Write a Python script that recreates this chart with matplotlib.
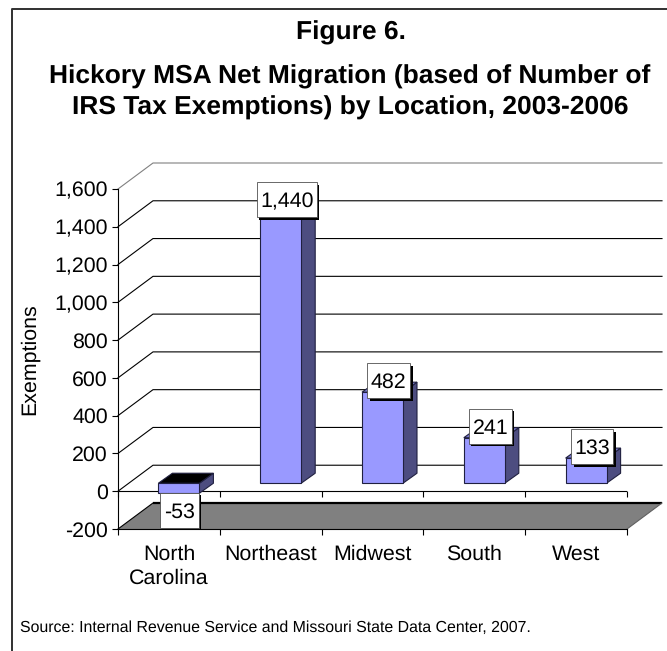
import matplotlib
matplotlib.use("Agg")
import matplotlib.pyplot as plt
from matplotlib.patches import Polygon, Rectangle

categories = ["North\nCarolina", "Northeast", "Midwest", "South", "West"]
values = [-53, 1440, 482, 241, 133]
value_labels = ["-53", "1,440", "482", "241", "133"]
yticks = [-200, 0, 200, 400, 600, 800, 1000, 1200, 1400, 1600]
ytick_labels = ["-200", "0", "200", "400", "600", "800", "1,000", "1,200", "1,400", "1,600"]
title_top = "Figure 6."
title_main = "Hickory MSA Net Migration (based of Number of\nIRS Tax Exemptions) by Location, 2003-2006"
source = "Source: Internal Revenue Service and Missouri State Data Center, 2007."

W, H = 667, 651
FS = 15.4
plt.rcParams["font.family"] = ["Liberation Sans", "DejaVu Sans"]
plt.rcParams["text.hinting"] = "no_hinting"
fig = plt.figure(figsize=(W / 100, H / 100), dpi=100)
L, R, T, B = 118, 627, 189, 529
ax = fig.add_axes([L / W, 1 - B / H, (R - L) / W, (B - T) / H])
ax.patch.set_visible(False)
ax.set_xlim(0, len(categories))
ax.set_ylim(-200, 1600)
PX = (R - L) / len(categories)
PY = (B - T) / 1800.0
def dx(p): return p / PX
def dy(p): return p / PY

LW = 0.8
for s in ("top", "right"):
    ax.spines[s].set_visible(False)
for s in ("left", "bottom"):
    ax.spines[s].set_linewidth(LW)
ax.set_yticks(yticks, ytick_labels, fontsize=FS)
ax.set_xticks(range(len(categories) + 1), [""] * (len(categories) + 1))
ax.set_xticks([i + 0.5 for i in range(len(categories))], categories, minor=True, fontsize=FS)
ax.tick_params(axis="y", length=4.2, width=LW, pad=3, labelcolor="black")
ax.tick_params(axis="x", which="major", length=4.2, width=LW)
ax.tick_params(axis="x", which="minor", length=0, pad=11)
for lab in ax.get_xminorticklabels():
    lab.set_linespacing(1.3)
ax.set_ylabel("Exemptions", fontsize=FS)
ax.yaxis.set_label_coords(39 / W, 1 - 359 / H, transform=fig.transFigure)

# depth of the 3-D box
Dx, Dy = dx(35), dy(26)
n = len(categories)
for v in yticks[1:]:
    c = "#808080" if v == 1600 else "black"
    ax.plot([0, Dx, n + Dx], [v, v + Dy, v + Dy], color=c, lw=LW, clip_on=False, zorder=1)

# floor
ax.add_patch(Polygon([(0, -200), (n, -200), (n + Dx, -200 + Dy), (Dx, -200 + Dy)], closed=True,
                     facecolor="#808080", edgecolor="none", clip_on=False, zorder=2))
ax.plot([Dx, n + Dx], [-200 + Dy, -200 + Dy], color="black", lw=1.6, clip_on=False, zorder=2.1,
        solid_capstyle="butt")
ax.plot([0, Dx], [-200, -200 + Dy], color="black", lw=LW, clip_on=False, zorder=2.1)
ax.plot([n, n + Dx], [-200, -200 + Dy], color="#606060", lw=LW, clip_on=False, zorder=2.1)

# zero line with its ticks
ax.axhline(0, color="black", lw=LW, zorder=2.2)
ax.vlines(range(n + 1), dy(-6), 0, color="black", lw=LW, clip_on=False, zorder=2.2)

# bars
fx, fy = dx(10), dy(8)
bx, by = dx(14), dy(10)
bw = dx(41)
FRONT, SIDE = "#9999FF", "#4D4D80"
for i, v in enumerate(values):
    x0 = i + 0.5 + fx - bw / 2
    x1 = x0 + bw
    y0, y1 = fy, v + fy
    hi = max(y0, y1)
    lo = min(y0, y1)
    ec = dict(edgecolor="#202040", linewidth=LW, clip_on=False, zorder=3)
    ax.add_patch(Polygon([(x1, lo), (x1 + bx, lo + by), (x1 + bx, hi + by), (x1, hi)], facecolor=SIDE, **ec))
    top = "black" if v < 0 else "#7A7ACC"
    ax.add_patch(Polygon([(x0, hi), (x1, hi), (x1 + bx, hi + by), (x0 + bx, hi + by)], facecolor=top, **ec))
    ax.add_patch(Rectangle((x0, lo), bw, hi - lo, facecolor=FRONT, **ec))

# value labels
box_w = [39, 60, 43, 43, 42]
for i, (v, t, w) in enumerate(zip(values, value_labels, box_w)):
    cx = i + 0.5 + (dx(10.5) if v < 0 else dx(16))
    cy = v + (dy(-9) if v < 0 else dy(19.5))
    h = dy(35)
    wd = dx(w)
    ax.add_patch(Rectangle((cx - wd / 2 + dx(2.5), cy - h / 2 - dy(2.5)), wd, h, facecolor="black",
                           edgecolor="none", clip_on=False, zorder=4))
    ax.add_patch(Rectangle((cx - wd / 2, cy - h / 2), wd, h, facecolor="white", edgecolor="#505050",
                           linewidth=0.6, clip_on=False, zorder=4.1))
    ax.text(cx, cy, t, ha="center", va="center_baseline", fontsize=FS, color="black", zorder=5, clip_on=False)

# titles and frame
fig.text(350.5 / W, 1 - 33 / H, title_top, ha="center", va="center", fontsize=19, fontweight="bold")
fig.text(350 / W, 1 - 92.5 / H, title_main, ha="center", va="center", fontsize=19, fontweight="bold", linespacing=1.33)
fig.text(20 / W, 1 - 628 / H, source, ha="left", va="center", fontsize=11.45)
fig.add_artist(plt.Line2D([11.5 / W, 11.5 / W, 1], [0, 1 - 8.5 / H, 1 - 8.5 / H], color="#303030", lw=1.4,
                          transform=fig.transFigure))
fig.savefig("out.png", dpi=100)
